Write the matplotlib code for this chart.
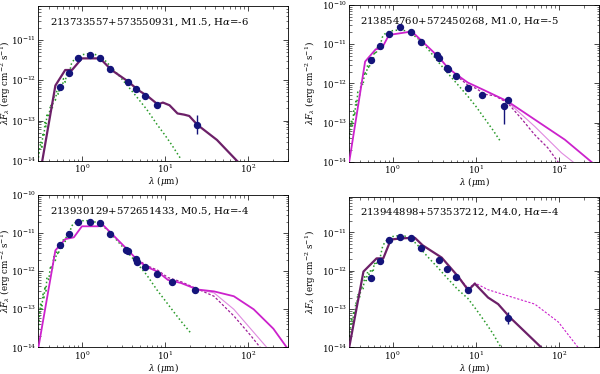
import matplotlib
matplotlib.use("Agg")
import matplotlib.pyplot as plt
import numpy as np

plt.rcParams['font.family'] = ['DejaVu Serif']
plt.rcParams['mathtext.fontset'] = 'dejavuserif'

# ---------------- data ----------------
titles = ["213733557+573550931, M1.5, H$\\alpha$=-6",
          "213854760+572450268, M1.0, H$\\alpha$=-5",
          "213930129+572651433, M0.5, H$\\alpha$=-4",
          "213944898+573537212, M4.0, H$\\alpha$=-4"]

# observed photometry
p1_lam = [0.55, 0.70, 0.90, 1.235, 1.66, 2.16, 3.6, 4.5, 5.8, 8.0, 24.0]
p1_flx = [6.9e-13, 1.5e-12, 3.5e-12, 4.3e-12, 3.6e-12, 1.9e-12, 9.3e-13, 6.0e-13, 4.0e-13, 2.5e-13, 7.6e-14]
p1_errlo = [0, 0, 0, 0, 0, 0, 0, 0, 0, 0, 3.0e-14]
p1_errhi = [0, 0, 0, 0, 0, 0, 0, 0, 0, 0, 6.0e-14]

p2_lam = [0.55, 0.70, 0.90, 1.235, 1.66, 2.16, 3.4, 3.6, 4.5, 4.6, 5.8, 8.0, 12.0, 22.0, 24.0]
p2_flx = [4.0e-12, 8.8e-12, 1.8e-11, 2.8e-11, 2.0e-11, 1.15e-11, 5.4e-12, 4.4e-12, 2.4e-12, 2.3e-12, 1.55e-12, 7.6e-13, 5.1e-13, 2.6e-13, 3.7e-13]
p2_errlo = [0, 0, 0, 0, 0, 0, 0, 0, 0, 0, 0, 0, 0, 1.7e-13, 0]
p2_errhi = [0, 0, 0, 0, 0, 0, 0, 0, 0, 0, 0, 0, 0, 0.6e-13, 0]

p3_lam = [0.55, 0.70, 0.90, 1.235, 1.66, 2.16, 3.4, 3.6, 4.5, 4.6, 5.8, 8.0, 12.0, 23.0]
p3_flx = [4.9e-12, 9.7e-12, 1.9e-11, 1.9e-11, 1.8e-11, 9.7e-12, 3.6e-12, 3.4e-12, 2.1e-12, 1.75e-12, 1.3e-12, 8.5e-13, 5.2e-13, 3.3e-13]
p3_errlo = [0] * 14
p3_errhi = [0] * 14

p4_lam = [0.55, 0.70, 0.90, 1.235, 1.66, 2.16, 3.6, 4.5, 5.8, 8.0, 24.0]
p4_flx = [6.6e-13, 1.8e-12, 6.2e-12, 7.8e-12, 7.2e-12, 4.0e-12, 1.9e-12, 1.1e-12, 6.9e-13, 3.1e-13, 6.0e-14]
p4_errlo = [0, 0, 0, 0, 0, 0, 0, 0, 0, 0, 1.8e-14]
p4_errhi = [0, 0, 0, 0, 0, 0, 0, 0, 0, 0, 2.2e-14]

# photospheres (green dotted)
p1_ph_lam = [0.30, 0.32, 0.33, 0.34, 0.35, 0.36, 0.37, 0.38, 0.40, 0.42, 0.44, 0.46, 0.48, 0.50, 0.52, 0.55, 0.58, 0.60, 0.63, 0.66, 0.70, 0.75, 0.80, 0.90, 1.0, 1.2, 1.4, 1.7, 2.0, 2.3, 2.8, 3.5, 4.5, 6.0, 8.0, 10.0, 12.0, 15.5]
p1_ph_flx = [1.2e-14, 3e-14, 2e-14, 5e-14, 4e-14, 9e-14, 7e-14, 1.5e-13, 1.2e-13, 2.5e-13, 2.0e-13, 4.0e-13, 3.2e-13, 5.5e-13, 4.5e-13, 7.5e-13, 6e-13, 1.1e-12, 9e-13, 1.6e-12, 1.4e-12, 2.6e-12, 3.2e-12, 3.8e-12, 4.3e-12, 4.6e-12, 4.5e-12, 3.8e-12, 2.8e-12, 2.0e-12, 1.3e-12, 7.5e-13, 4e-13, 1.9e-13, 8e-14, 4.3e-14, 2.5e-14, 1.1e-14]

p2_ph_lam = [0.30, 0.32, 0.33, 0.34, 0.35, 0.36, 0.37, 0.38, 0.40, 0.42, 0.44, 0.46, 0.48, 0.50, 0.52, 0.55, 0.58, 0.60, 0.63, 0.66, 0.70, 0.75, 0.80, 0.90, 1.0, 1.2, 1.4, 1.7, 2.0, 2.3, 2.8, 3.5, 4.5, 6.0, 8.0, 10.0, 13.0, 16.0, 20.0]
p2_ph_flx = [4e-14, 1.2e-13, 8e-14, 2e-13, 1.5e-13, 3.5e-13, 2.8e-13, 6e-13, 5e-13, 1.1e-12, 9e-13, 2.0e-12, 1.6e-12, 3.0e-12, 2.4e-12, 4.5e-12, 3.6e-12, 6.5e-12, 5.5e-12, 9.5e-12, 8.5e-12, 1.5e-11, 1.8e-11, 2.1e-11, 2.2e-11, 2.3e-11, 2.2e-11, 1.8e-11, 1.4e-11, 1.05e-11, 6.5e-12, 3.6e-12, 1.9e-12, 9.5e-13, 4.7e-13, 2.6e-13, 1.2e-13, 6.5e-14, 3.2e-14]

p3_ph_lam = [0.30, 0.32, 0.33, 0.34, 0.35, 0.36, 0.37, 0.38, 0.40, 0.42, 0.44, 0.46, 0.48, 0.50, 0.52, 0.55, 0.58, 0.60, 0.63, 0.66, 0.70, 0.75, 0.80, 0.90, 1.0, 1.2, 1.4, 1.7, 2.0, 2.3, 2.8, 3.5, 4.5, 6.0, 8.0, 10.0, 13.0, 16.0, 20.0]
p3_ph_flx = [3e-14, 1.5e-13, 1.0e-13, 2.5e-13, 2.0e-13, 4.0e-13, 3.0e-13, 7e-13, 6e-13, 1.4e-12, 1.1e-12, 2.4e-12, 1.9e-12, 3.4e-12, 2.7e-12, 5.0e-12, 4.0e-12, 7.0e-12, 6.0e-12, 9.5e-12, 9.0e-12, 1.5e-11, 1.8e-11, 2.0e-11, 2.1e-11, 2.1e-11, 2.0e-11, 1.6e-11, 1.25e-11, 9.0e-12, 5.5e-12, 3.2e-12, 1.7e-12, 8.0e-13, 3.2e-13, 1.7e-13, 8.0e-14, 4.5e-14, 2.5e-14]

p4_ph_lam = [0.30, 0.32, 0.33, 0.34, 0.35, 0.36, 0.37, 0.38, 0.40, 0.42, 0.44, 0.46, 0.48, 0.50, 0.52, 0.55, 0.58, 0.60, 0.63, 0.66, 0.70, 0.75, 0.80, 0.90, 1.0, 1.2, 1.4, 1.7, 2.0, 2.3, 2.8, 3.5, 4.5, 6.0, 8.0, 10.0, 13.0, 16.0, 20.0]
p4_ph_flx = [1.5e-14, 6e-14, 4e-14, 9e-14, 7e-14, 1.5e-13, 1.2e-13, 2.5e-13, 2.0e-13, 4.0e-13, 3.2e-13, 7.0e-13, 5.5e-13, 9.5e-13, 8.0e-13, 1.1e-12, 9.0e-13, 1.6e-12, 1.4e-12, 2.2e-12, 2.0e-12, 4.0e-12, 5.5e-12, 7.0e-12, 7.8e-12, 8.3e-12, 8.0e-12, 6.5e-12, 4.6e-12, 3.2e-12, 2.0e-12, 1.2e-12, 6.5e-13, 3.3e-13, 1.9e-13, 1.0e-13, 4.5e-14, 2.3e-14, 1.0e-14]

# disk models
p1_mod_lam = [0.30, 0.334, 0.48, 0.63, 0.76, 1.0, 1.65, 2.27, 3.6, 4.7, 6.2, 8.2, 9.4, 11.3, 14.1, 17.0, 19.5, 24.5, 42.0, 73.0, 120.0]
p1_mod_flx = [4e-15, 1e-14, 7.4e-13, 1.8e-12, 1.8e-12, 3.5e-12, 3.5e-12, 1.8e-12, 9.3e-13, 5.8e-13, 4.0e-13, 2.5e-13, 2.8e-13, 2.4e-13, 1.5e-13, 1.4e-13, 1.3e-13, 7.8e-14, 3.3e-14, 1.0e-14, 4e-15]

p2_mod_lam = [0.30, 0.466, 0.625, 0.74, 0.90, 1.05, 1.7, 2.29, 3.6, 4.6, 5.8, 8.0, 12.8, 24.0, 51.0, 117.0, 245.0]
p2_mod_flx = [1.0e-14, 3.6e-12, 7.4e-12, 7.8e-12, 1.7e-11, 1.8e-11, 2.1e-11, 1.15e-11, 4.6e-12, 2.5e-12, 1.7e-12, 1.05e-12, 6.6e-13, 3.5e-13, 1.2e-13, 3.7e-14, 1.0e-14]
p2_thin_lam = [24.0, 51.0, 107.0, 147.0, 200.0]
p2_thin_flx = [3.4e-13, 8.0e-14, 1.7e-14, 1.0e-14, 6e-15]
p2_dash_lam = [5.8, 8.0, 10.0, 12.8, 17.0, 24.0, 36.0, 51.0, 73.0, 97.0, 130.0]
p2_dash_flx = [1.6e-12, 9.0e-13, 7.5e-13, 5.3e-13, 4.8e-13, 3.2e-13, 1.2e-13, 4.9e-14, 2.3e-14, 1.0e-14, 5e-15]

p3_mod_lam = [0.30, 0.48, 0.63, 0.80, 1.0, 1.58, 1.73, 2.27, 3.6, 4.7, 6.0, 8.2, 10.8, 15.5, 24.5, 38.7, 67.0, 116.0, 200.0, 290.0]
p3_mod_flx = [1.0e-14, 3.5e-12, 6.9e-12, 7.7e-12, 1.5e-11, 1.5e-11, 1.75e-11, 9.7e-12, 3.5e-12, 1.9e-12, 1.3e-12, 9.6e-13, 5.9e-13, 4.9e-13, 3.3e-13, 2.95e-13, 2.2e-13, 1.0e-13, 3.1e-14, 1.0e-14]
p3_thin_lam = [24.5, 38.7, 67.0, 116.0, 167.0, 220.0]
p3_thin_flx = [3.3e-13, 2.7e-13, 1.0e-13, 2.5e-14, 1.0e-14, 5e-15]
p3_dash_lam = [4.7, 6.0, 8.2, 10.8, 15.5, 24.5, 38.7, 67.0, 106.0, 139.0, 180.0]
p3_dash_flx = [2.0e-12, 1.4e-12, 1.05e-12, 6.8e-13, 5.3e-13, 3.4e-13, 2.2e-13, 6.7e-14, 2.1e-14, 1.0e-14, 5e-15]

p4_mod_lam = [0.30, 0.445, 0.64, 0.77, 0.95, 1.28, 1.85, 2.29, 3.88, 6.1, 8.1, 9.7, 14.0, 18.5, 25.6, 61.0, 100.0]
p4_mod_flx = [1.0e-14, 9.5e-13, 2.1e-12, 2.1e-12, 6.5e-12, 7.0e-12, 7.2e-12, 4.6e-12, 2.2e-12, 7.1e-13, 3.1e-13, 4.6e-13, 2.0e-13, 1.35e-13, 6.1e-14, 1.0e-14, 3e-15]
p4_dash_lam = [6.1, 8.1, 9.7, 14.0, 24.5, 51.0, 98.0, 169.0, 220.0]
p4_dash_flx = [7.1e-13, 3.4e-13, 4.8e-13, 3.2e-13, 2.2e-13, 1.35e-13, 4.6e-14, 1.0e-14, 5e-15]

ylims_top = [7e-11, 1e-10, 1e-10, 8.5e-11]
xticks = [1, 10, 100]
yticks_all = [1e-14, 1e-13, 1e-12, 1e-11, 1e-10]

# ---------------- style ----------------
c_pt = '#14147a'
c_green = '#2a9a2a'
c_purple = '#6c2068'
c_mag = '#cc22cc'
c_thin = '#e08ae0'
c_dash = '#a0209a'

fig = plt.figure(figsize=(6.0, 3.74), dpi=100)
rects = [[0.064, 0.570, 0.416, 0.414],
         [0.582, 0.567, 0.416, 0.420],
         [0.064, 0.071, 0.416, 0.408],
         [0.582, 0.071, 0.416, 0.403]]
ylab_x = [-0.1, -0.125, -0.1, -0.125]
xlab_y = [-0.085, -0.085, -0.09, -0.092]

obs = [(p1_lam, p1_flx, p1_errlo, p1_errhi), (p2_lam, p2_flx, p2_errlo, p2_errhi),
       (p3_lam, p3_flx, p3_errlo, p3_errhi), (p4_lam, p4_flx, p4_errlo, p4_errhi)]
phot = [(p1_ph_lam, p1_ph_flx), (p2_ph_lam, p2_ph_flx), (p3_ph_lam, p3_ph_flx), (p4_ph_lam, p4_ph_flx)]

for i in range(4):
    ax = fig.add_axes(rects[i])
    ax.set_xscale('log')
    ax.set_yscale('log')
    ax.plot(phot[i][0], phot[i][1], ls=':', color=c_green, lw=1.1, zorder=2)
    if i == 0:
        ax.plot(p1_mod_lam, p1_mod_flx, color=c_purple, lw=1.6, zorder=3)
    elif i == 1:
        ax.plot(p2_thin_lam, p2_thin_flx, color=c_thin, lw=0.8, zorder=3)
        ax.plot(p2_dash_lam, p2_dash_flx, color=c_dash, lw=0.9, ls='--', dashes=(2, 1.5), zorder=3)
        ax.plot(p2_mod_lam, p2_mod_flx, color=c_mag, lw=1.3, zorder=3)
    elif i == 2:
        ax.plot(p3_thin_lam, p3_thin_flx, color=c_thin, lw=0.8, zorder=3)
        ax.plot(p3_dash_lam, p3_dash_flx, color=c_dash, lw=0.9, ls='--', dashes=(2, 1.5), zorder=3)
        ax.plot(p3_mod_lam, p3_mod_flx, color=c_mag, lw=1.3, zorder=3)
    else:
        ax.plot(p4_dash_lam, p4_dash_flx, color=c_mag, lw=0.8, ls='--', dashes=(2, 1.5), zorder=3)
        ax.plot(p4_mod_lam, p4_mod_flx, color=c_purple, lw=1.6, zorder=3)
    lam, flx, elo, ehi = obs[i]
    ax.errorbar(lam, flx, yerr=[elo, ehi], fmt='o', color=c_pt, ms=4.3,
                elinewidth=1.0, capsize=0, zorder=5)
    ax.set_xlim(0.3, 300)
    ax.set_ylim(1e-14, ylims_top[i])
    ax.set_xticks(xticks)
    ax.set_yticks([t for t in yticks_all if t <= ylims_top[i] * 1.0001])
    ax.xaxis.set_minor_locator(matplotlib.ticker.LogLocator(base=10, subs=np.arange(2, 10), numticks=10))
    ax.yaxis.set_minor_locator(matplotlib.ticker.LogLocator(base=10, subs=np.arange(2, 10), numticks=10))
    ax.xaxis.set_minor_formatter(matplotlib.ticker.NullFormatter())
    ax.yaxis.set_minor_formatter(matplotlib.ticker.NullFormatter())
    ax.set_xlim(0.3, 300)
    ax.set_ylim(1e-14, ylims_top[i])
    ax.text(0.045, 0.895, titles[i], transform=ax.transAxes, fontsize=7.3,
            va='center', ha='left')
    ax.set_xlabel(r'$\lambda$ ($\mu$m)', fontsize=6.3)
    ax.xaxis.set_label_coords(0.5, xlab_y[i])
    ax.set_ylabel(r'$\lambda F_\lambda$ (erg cm$^{-2}$ s$^{-1}$)', fontsize=6.3)
    ax.yaxis.set_label_coords(ylab_x[i], 0.5)
    ax.tick_params(which='both', direction='in', top=True, right=True, labelsize=6.2, pad=1.5)
    ax.tick_params(which='major', length=3.5, width=0.5)
    ax.tick_params(which='minor', length=1.8, width=0.4)
    for s in ax.spines.values():
        s.set_linewidth(0.6)

fig.savefig('out.png', dpi=100)
